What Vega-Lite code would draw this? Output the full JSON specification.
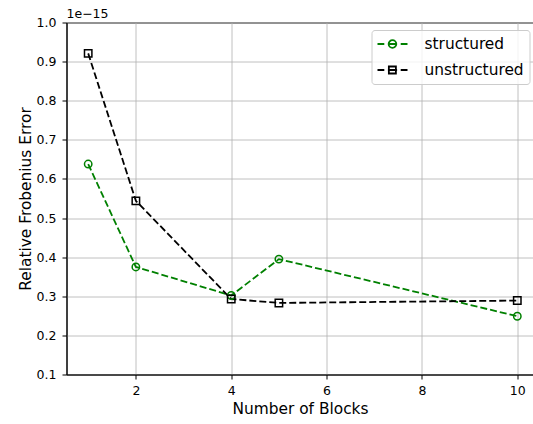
{
  "$schema": "https://vega.github.io/schema/vega-lite/v6.json",
  "width": 467,
  "height": 352,
  "autosize": {"type": "none"},
  "padding": {"left": 66.5, "top": 22.5, "right": 0, "bottom": 49.5},
  "background": "white",
  "title": {"text": "1e−15", "anchor": "start", "frame": "group", "fontSize": 12.5, "font": "DejaVu Sans", "fontWeight": "normal", "color": "black", "offset": -4},
  "config": {
    "font": "DejaVu Sans",
    "view": {"stroke": "black", "strokeWidth": 1},
    "axis": {
      "labelFont": "DejaVu Sans", "labelFontSize": 12.5, "labelColor": "black",
      "titleFont": "DejaVu Sans", "titleFontSize": 15.4, "titleFontWeight": "normal", "titleColor": "black",
      "domainColor": "black", "domainWidth": 1, "tickColor": "black", "tickSize": 4.5, "tickWidth": 1, "labelPadding": 5,
      "grid": true, "gridColor": "#b0b0b0", "gridWidth": 0.8, "gridOpacity": 1
    }
  },
  "data": {"values": [
    {"blocks": 1, "error": 6.38e-16, "series": "structured"},
    {"blocks": 2, "error": 3.75e-16, "series": "structured"},
    {"blocks": 4, "error": 3.02e-16, "series": "structured"},
    {"blocks": 5, "error": 3.95e-16, "series": "structured"},
    {"blocks": 10, "error": 2.49e-16, "series": "structured"},
    {"blocks": 1, "error": 9.21e-16, "series": "unstructured"},
    {"blocks": 2, "error": 5.44e-16, "series": "unstructured"},
    {"blocks": 4, "error": 2.93e-16, "series": "unstructured"},
    {"blocks": 5, "error": 2.83e-16, "series": "unstructured"},
    {"blocks": 10, "error": 2.89e-16, "series": "unstructured"}
  ]},
  "encoding": {
    "x": {"field": "blocks", "type": "quantitative",
      "scale": {"domain": [0.545, 10.34], "nice": false, "zero": false},
      "axis": {"values": [2, 4, 6, 8, 10], "title": "Number of Blocks", "labelFlush": false, "labelPadding": 5, "titlePadding": 5}},
    "y": {"field": "error", "type": "quantitative",
      "scale": {"domain": [1e-16, 1e-15], "nice": false, "zero": false},
      "axis": {"values": [1e-16, 2e-16, 3e-16, 4e-16, 5e-16, 6e-16, 7e-16, 8e-16, 9e-16, 1e-15],
        "labelExpr": "format(datum.value * 1e15, '.1f')", "title": "Relative Frobenius Error", "labelPadding": 6, "titlePadding": 3, "labelFlush": false}}
  },
  "layer": [
    {
      "mark": {"type": "line", "strokeDash": [7, 3], "strokeWidth": 1.8},
      "encoding": {
        "stroke": {"field": "series", "type": "nominal",
          "scale": {"domain": ["structured", "unstructured"], "range": ["#008000", "#000000"]}, "legend": null}
      }
    },
    {
      "mark": {"type": "point", "filled": false, "strokeWidth": 1.5, "size": 55, "opacity": 1},
      "encoding": {
        "stroke": {"field": "series", "type": "nominal",
          "scale": {"domain": ["structured", "unstructured"], "range": ["#008000", "#000000"]}, "legend": null},
        "shape": {"field": "series", "type": "nominal",
          "scale": {"domain": ["structured", "unstructured"], "range": ["circle", "square"]}, "legend": null}
      }
    },
    {
      "transform": [{"filter": "false"}],
      "mark": {"type": "point", "filled": false, "strokeWidth": 1.5, "opacity": 1},
      "encoding": {
        "stroke": {"field": "series", "type": "nominal",
          "scale": {"domain": ["structured", "unstructured"], "range": ["#008000", "#000000"]},
          "legend": {"title": null, "orient": "none", "legendX": 305, "legendY": 7.5, "padding": 5, "labelFontSize": 15.4, "labelFont": "DejaVu Sans", "labelColor": "black", "labelOffset": 30, "symbolSize": 256, "symbolStrokeWidth": 1.8, "rowPadding": 8, "strokeColor": "#cccccc", "fillColor": "rgba(255,255,255,0.8)", "cornerRadius": 3}},
        "shape": {"field": "series", "type": "nominal",
          "scale": {"domain": ["structured", "unstructured"], "range": [
            "M-1,0H-0.15M0.3,0H1.45M1.9,0H2.75M1.35,0A0.48,0.48 0 1,1 0.39,0A0.48,0.48 0 1,1 1.35,0",
            "M-1,0H-0.15M0.3,0H1.45M1.9,0H2.75M0.42,-0.44H1.3V0.44H0.42Z"]},
          "legend": {"title": null, "orient": "none", "legendX": 305, "legendY": 7.5, "padding": 5, "labelFontSize": 15.4, "labelFont": "DejaVu Sans", "labelColor": "black", "labelOffset": 30, "symbolSize": 256, "symbolStrokeWidth": 1.8, "rowPadding": 8, "strokeColor": "#cccccc", "fillColor": "rgba(255,255,255,0.8)", "cornerRadius": 3}}
      }
    }
  ],
  "resolve": {"scale": {"stroke": "independent", "shape": "independent"}}
}
